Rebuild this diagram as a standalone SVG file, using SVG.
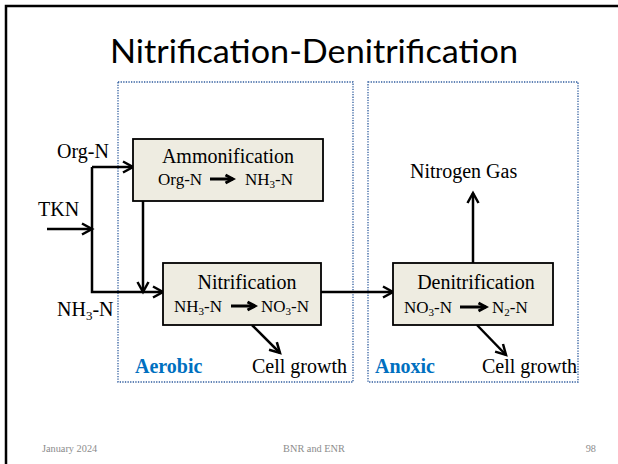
<svg xmlns="http://www.w3.org/2000/svg" width="618" height="464" viewBox="0 0 618 464">
  <style>
    .lbl { font-family: "Liberation Serif", "Times New Roman", serif; font-size: 20px; fill: #000; }
    .sub { font-family: "Liberation Serif", "Times New Roman", serif; font-size: 17px; fill: #000; }
    .zone-name { font-family: "Liberation Serif", "Times New Roman", serif; font-size: 20px; font-weight: bold; fill: #0070c0; }
    .box { fill: #eeece1; stroke: #000; stroke-width: 1.8; }
    .zone { fill: none; stroke: #2f5c9e; stroke-width: 1.3; stroke-dasharray: 1.3 1.3; }
    .conn { fill: none; stroke: #000; stroke-width: 2.5; marker-end: url(#chev); }
    .inline { fill: none; stroke: #000; stroke-width: 3; marker-end: url(#chev-s); }
    .foot { font-family: "Liberation Serif", "Times New Roman", serif; font-size: 10.3px; fill: #8c8c8c; }
  </style>
  <defs>
    <marker id="chev" markerUnits="userSpaceOnUse" markerWidth="14" markerHeight="14" viewBox="0 0 14 14" refX="11" refY="7" orient="auto">
      <path d="M1,1.5 L11,7 L1,12.5" fill="none" stroke="#000" stroke-width="2.5"/>
    </marker>
    <marker id="chev-s" markerUnits="userSpaceOnUse" markerWidth="12" markerHeight="12" viewBox="0 0 12 12" refX="9" refY="6" orient="auto">
      <path d="M1.5,2 L9,6 L1.5,10" fill="none" stroke="#000" stroke-width="3"/>
    </marker>
  </defs>

  <rect width="618" height="464" fill="#fff"/>
  <!-- slide frame -->
  <path d="M6,464 V6 H618" fill="none" stroke="#000" stroke-width="2.5"/>

  <text x="110" y="63" font-family="Lato, 'Open Sans', sans-serif" font-size="32" fill="#000" textLength="408" lengthAdjust="spacingAndGlyphs">Nitrification-Denitrification</text>

  <!-- process zones -->
  <g id="zone-aerobic">
    <rect class="zone" x="118" y="82" width="235" height="300"/>
    <text class="zone-name" x="135" y="373">Aerobic</text>
  </g>
  <g id="zone-anoxic">
    <rect class="zone" x="368" y="82" width="210" height="300"/>
    <text class="zone-name" x="375" y="373">Anoxic</text>
  </g>

  <!-- connectors -->
  <g id="connectors">
    <path class="conn" d="M92,167 H133"/>
    <path class="conn" d="M47,229 H92"/>
    <path class="conn" d="M92,167 V292 H163"/>
    <path class="conn" d="M143,201 V292"/>
    <path class="conn" d="M321,292 H393"/>
    <path class="conn" d="M473,263 V193"/>
    <path class="conn" d="M252,325 L280,353"/>
    <path class="conn" d="M477,325 L506,355"/>
  </g>

  <!-- input / output labels -->
  <g id="in-orgn"><text class="lbl" x="57" y="158">Org-N</text></g>
  <g id="in-tkn"><text class="lbl" x="38" y="216">TKN</text></g>
  <g id="in-nh3"><text class="lbl" x="57" y="316">NH<tspan font-size="13" dy="4">3</tspan><tspan dy="-4">-N</tspan></text></g>
  <g id="out-n2"><text class="lbl" x="410" y="178">Nitrogen Gas</text></g>
  <g id="out-cell-1"><text class="lbl" x="252" y="373">Cell growth</text></g>
  <g id="out-cell-2"><text class="lbl" x="482" y="373">Cell growth</text></g>

  <!-- process nodes -->
  <g id="ammonification">
    <rect class="box" x="133" y="139" width="190" height="62"/>
    <text class="lbl" x="228" y="163" text-anchor="middle">Ammonification</text>
    <text class="sub" x="158" y="185">Org-N</text>
    <line class="inline" x1="210" y1="179" x2="233" y2="179"/>
    <text class="sub" x="245" y="185">NH<tspan font-size="11" dy="3">3</tspan><tspan dy="-3">-N</tspan></text>
  </g>

  <g id="nitrification">
    <rect class="box" x="163" y="263" width="158" height="62"/>
    <text class="lbl" x="247" y="289" text-anchor="middle">Nitrification</text>
    <text class="sub" x="174" y="312">NH<tspan font-size="11" dy="3">3</tspan><tspan dy="-3">-N</tspan></text>
    <line class="inline" x1="231" y1="306" x2="255" y2="306"/>
    <text class="sub" x="261" y="312">NO<tspan font-size="11" dy="3">3</tspan><tspan dy="-3">-N</tspan></text>
  </g>

  <g id="denitrification">
    <rect class="box" x="393" y="263" width="160" height="62"/>
    <text class="lbl" x="476" y="289" text-anchor="middle">Denitrification</text>
    <text class="sub" x="404" y="313">NO<tspan font-size="11" dy="3">3</tspan><tspan dy="-3">-N</tspan></text>
    <line class="inline" x1="460" y1="307" x2="486" y2="307"/>
    <text class="sub" x="492" y="313">N<tspan font-size="11" dy="3">2</tspan><tspan dy="-3">-N</tspan></text>
  </g>

  <!-- footer -->
  <text class="foot" x="42" y="452">January 2024</text>
  <text class="foot" x="314" y="452" text-anchor="middle">BNR and ENR</text>
  <text class="foot" x="596" y="452" text-anchor="end">98</text>
</svg>
